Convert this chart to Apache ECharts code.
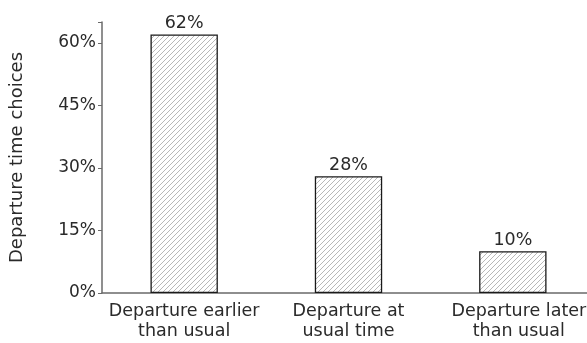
<!DOCTYPE html>
<html>
<head>
  <meta charset="UTF-8">
  <title>Departure time choices</title>
  <script src="https://cdn.jsdelivr.net/npm/echarts@6/dist/echarts.min.js"></script>
  <style>
    body { margin: 0; background: #fff; overflow: hidden; }
  </style>
</head>
<body>
  <!-- a bit wider than the window: the right edge of the plot runs off the page, like the original -->
  <div id="main" style="width: 595px;height:343px;"></div>
  <script type="text/javascript">
    // data
    var categories = ['Departure earlier\nthan usual', 'Departure at\nusual time', 'Departure later\nthan usual'];
    var shares = [62, 28, 10];
    var yTicks = [0, 15, 30, 45, 60];

    // hatch pattern for the bars
    var hatch = document.createElement('canvas');
    hatch.width = 5;
    hatch.height = 5;
    var ctx = hatch.getContext('2d');
    ctx.fillStyle = '#fff';
    ctx.fillRect(0, 0, 5, 5);
    ctx.strokeStyle = '#a0a0a0';
    ctx.lineWidth = 0.75;
    ctx.beginPath();
    ctx.moveTo(0, 5); ctx.lineTo(5, 0);
    ctx.moveTo(-2.5, 2.5); ctx.lineTo(2.5, -2.5);
    ctx.moveTo(2.5, 7.5); ctx.lineTo(7.5, 2.5);
    ctx.stroke();

    var myChart = echarts.init(document.getElementById('main'));
    var font = 'DejaVu Sans, sans-serif';

    // last label sits a little to the right and gets cut by the page edge
    var catData = categories.map(function (c, i) {
      if (i === categories.length - 1) {
        return { value: c, textStyle: { padding: [0, 0, 0, 12] } };
      }
      return c;
    });

    var option = {
      backgroundColor: '#fff',
      animation: false,
      grid: { left: 102, right: 0, top: 22, bottom: 50 },
      xAxis: {
        type: 'category',
        data: catData,
        axisLine: { lineStyle: { color: '#6a6a6a', width: 1.5 } },
        axisTick: { show: false },
        axisLabel: { interval: 0, color: '#2a2a2a', fontSize: 17.5, fontFamily: font, lineHeight: 20, margin: 8 }
      },
      yAxis: {
        type: 'value',
        min: 0,
        max: 65,
        interval: 15,
        name: 'Departure time choices',
        nameLocation: 'middle',
        nameGap: 76,
        nameTextStyle: { color: '#2a2a2a', fontSize: 18, fontFamily: font },
        splitLine: { show: false },
        axisLine: { show: true, lineStyle: { color: '#6a6a6a', width: 1.5 } },
        axisTick: { show: true, length: 4, lineStyle: { color: '#6a6a6a' } },
        axisLabel: {
          color: '#2a2a2a', fontSize: 17, fontFamily: font, margin: 6,
          formatter: function (v) {
            return yTicks.indexOf(v) >= 0 ? v + '%' : '';
          }
        }
      },
      series: [{
        type: 'bar',
        data: shares,
        barWidth: '41%',
        itemStyle: {
          color: { image: hatch, repeat: 'repeat' },
          borderColor: '#1a1a1a',
          borderWidth: 1.3
        },
        label: {
          show: true,
          position: 'top',
          distance: 2,
          color: '#2a2a2a',
          fontSize: 17.5,
          fontFamily: font,
          formatter: '{c}%'
        }
      }]
    };

    myChart.setOption(option);
  </script>
</body>
</html>
